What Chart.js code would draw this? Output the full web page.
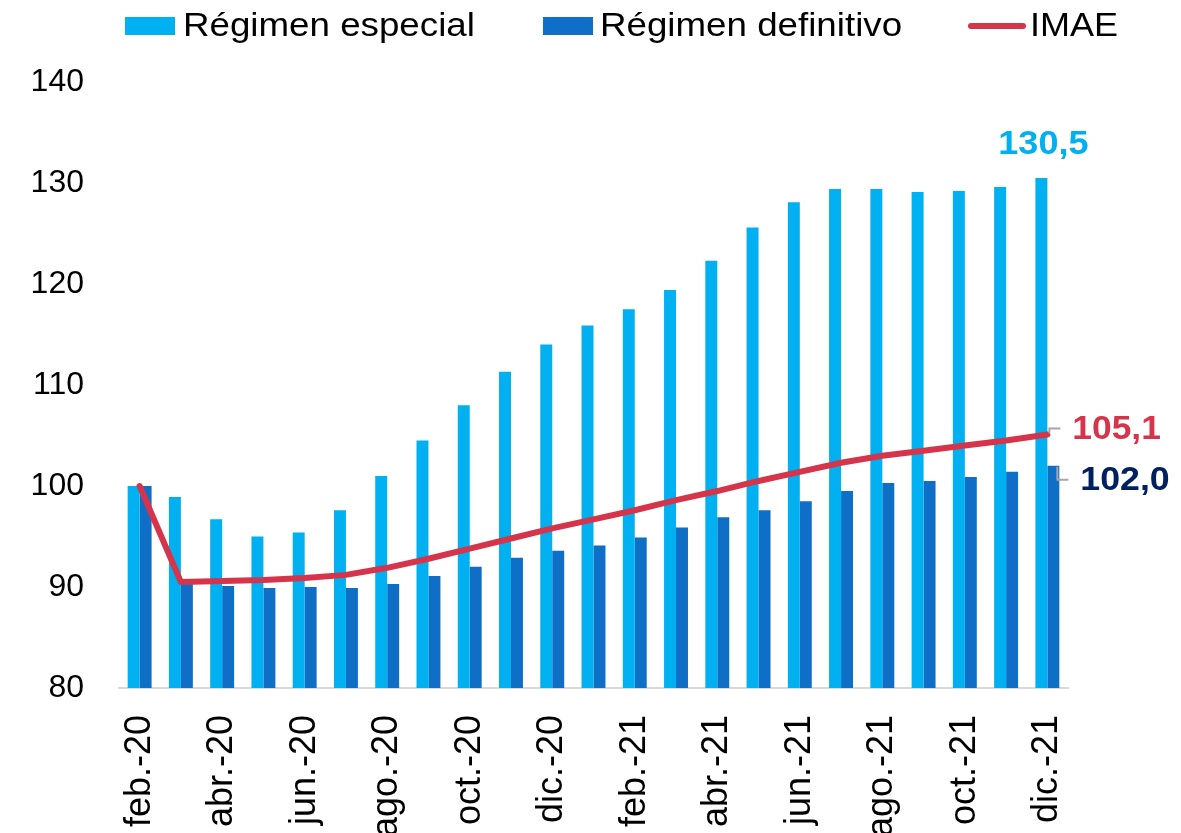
<!DOCTYPE html>
<html lang="es">
<head>
<meta charset="utf-8">
<title>Régimen especial vs definitivo e IMAE</title>
<script src="https://cdn.jsdelivr.net/npm/chart.js@4.4.1/dist/chart.umd.min.js"></script>
<style>
  html, body { margin: 0; padding: 0; background: #fff; }
  #wrap { position: relative; width: 1181px; height: 833px; }
</style>
</head>
<body>
<div id="wrap"><canvas id="chart"></canvas></div>
<script>
const MONTHS = [
  'feb.-20', 'mar.-20', 'abr.-20', 'may.-20', 'jun.-20', 'jul.-20', 'ago.-20', 'sep.-20',
  'oct.-20', 'nov.-20', 'dic.-20', 'ene.-21', 'feb.-21', 'mar.-21', 'abr.-21', 'may.-21',
  'jun.-21', 'jul.-21', 'ago.-21', 'sep.-21', 'oct.-21', 'nov.-21', 'dic.-21',
];

const REGIMEN_ESPECIAL = [
  100.0, 98.9, 96.7, 95.0, 95.4, 97.6, 101.0, 104.5, 108.0, 111.3, 114.0, 115.9,
  117.5, 119.4, 122.3, 125.6, 128.1, 129.4, 129.4, 129.1, 129.2, 129.6, 130.5,
];

const REGIMEN_DEFINITIVO = [
  100.0, 90.7, 90.1, 89.9, 90.0, 89.9, 90.3, 91.1, 92.0, 92.9, 93.6, 94.1,
  94.9, 95.9, 96.9, 97.6, 98.5, 99.5, 100.3, 100.5, 100.9, 101.4, 102.0,
];

const IMAE = [
  100.0, 90.5, 90.6, 90.7, 90.9, 91.2, 91.9, 92.8, 93.8, 94.8, 95.8, 96.7,
  97.6, 98.6, 99.5, 100.5, 101.4, 102.3, 103.0, 103.5, 104.0, 104.5, 105.1,
];

const Y_TICKS = [80, 90, 100, 110, 120, 130, 140];

const COLORS = {
  especial: '#00B0F0',
  definitivo: '#0F6FC6',
  imae: '#D5344A',
  navy: '#002060',
  axis: '#D9D9D9',
  leader: '#A6A6A6',
};

const FONT = "'Liberation Sans', Arial, sans-serif";

const fmt = (v) => v.toFixed(1).replace('.', ',');

// the original text is a bit wider than Arial, stretch it slightly
function wideText(ctx, text, x, y, sx) {
  ctx.save();
  ctx.translate(x, y);
  ctx.scale(sx, 1);
  ctx.fillText(text, 0, 0);
  ctx.restore();
}

// legend drawn by hand so the spacing matches the original
const topLegend = {
  id: 'topLegend',
  afterDraw(chart) {
    const ctx = chart.ctx;
    const ds = chart.data.datasets;
    const y = 26;
    ctx.save();
    ctx.font = `34px ${FONT}`;
    ctx.textBaseline = 'middle';
    ctx.textAlign = 'left';

    ctx.fillStyle = ds[0].backgroundColor;
    ctx.fillRect(125, y - 9, 50, 18);
    ctx.fillStyle = '#000';
    wideText(ctx, ds[0].label, 183, y + 1, 1.08);

    ctx.fillStyle = ds[1].backgroundColor;
    ctx.fillRect(543, y - 9, 50, 18);
    ctx.fillStyle = '#000';
    wideText(ctx, ds[1].label, 600, y + 1, 1.08);

    ctx.strokeStyle = ds[2].borderColor;
    ctx.lineWidth = 6;
    ctx.lineCap = 'round';
    ctx.beginPath();
    ctx.moveTo(971, y);
    ctx.lineTo(1023, y);
    ctx.stroke();
    wideText(ctx, ds[2].label, 1030, y + 1, 1.06);
    ctx.restore();
  },
};

// end-of-series value labels with small leader lines
const endLabels = {
  id: 'endLabels',
  afterDatasetsDraw(chart) {
    const ctx = chart.ctx;
    const last = MONTHS.length - 1;
    const esp = chart.getDatasetMeta(0).data[last];
    const def = chart.getDatasetMeta(1).data[last];
    const ima = chart.getDatasetMeta(2).data[last];

    ctx.save();
    ctx.font = `bold 34px ${FONT}`;
    ctx.textBaseline = 'middle';

    ctx.fillStyle = COLORS.especial;
    ctx.textAlign = 'center';
    wideText(ctx, fmt(REGIMEN_ESPECIAL[last]), esp.x + 2, esp.y - 33, 1.06);

    ctx.strokeStyle = COLORS.leader;
    ctx.lineWidth = 2;
    ctx.beginPath();
    ctx.moveTo(ima.x + 2, ima.y - 1);
    ctx.lineTo(ima.x + 2, ima.y - 6);
    ctx.lineTo(ima.x + 13, ima.y - 6);
    ctx.stroke();

    ctx.beginPath();
    ctx.moveTo(def.x + 4, def.y + 1);
    ctx.lineTo(def.x + 4, def.y + 14);
    ctx.lineTo(def.x + 15, def.y + 14);
    ctx.stroke();

    ctx.textAlign = 'left';
    ctx.fillStyle = COLORS.imae;
    wideText(ctx, fmt(IMAE[last]), ima.x + 25, ima.y - 5, 1.04);
    ctx.fillStyle = COLORS.navy;
    wideText(ctx, fmt(REGIMEN_DEFINITIVO[last]), def.x + 27, def.y + 15, 1.05);
    ctx.restore();
  },
};

const ctx = document.getElementById('chart').getContext('2d');

new Chart(ctx, {
  type: 'bar',
  data: {
    labels: MONTHS,
    datasets: [
      {
        label: 'Régimen especial',
        data: REGIMEN_ESPECIAL,
        backgroundColor: COLORS.especial,
        borderWidth: 0,
        barPercentage: 1,
        categoryPercentage: 0.58,
        order: 1,
      },
      {
        label: 'Régimen definitivo',
        data: REGIMEN_DEFINITIVO,
        backgroundColor: COLORS.definitivo,
        borderWidth: 0,
        barPercentage: 1,
        categoryPercentage: 0.58,
        order: 1,
      },
      {
        type: 'line',
        label: 'IMAE',
        data: IMAE,
        borderColor: COLORS.imae,
        backgroundColor: COLORS.imae,
        borderWidth: 6,
        pointRadius: 0,
        tension: 0,
        borderJoinStyle: 'round',
        borderCapStyle: 'round',
        order: 0,
      },
    ],
  },
  options: {
    responsive: true,
    maintainAspectRatio: false,
    animation: false,
    layout: {
      padding: { top: 82, right: 113, left: 0, bottom: 0 },
    },
    plugins: {
      legend: { display: false },
      tooltip: { enabled: false },
    },
    scales: {
      x: {
        grid: { display: false, drawTicks: false },
        border: { display: true, color: COLORS.axis, width: 2 },
        ticks: {
          autoSkip: false,
          minRotation: 90,
          maxRotation: 90,
          padding: 27,
          color: '#000',
          font: { family: FONT, size: 36 },
          callback: (val, i) => (i % 2 === 0 ? MONTHS[i] : ''),
        },
        afterFit: (scale) => { scale.height = 145; },
      },
      y: {
        min: Y_TICKS[0],
        max: Y_TICKS[Y_TICKS.length - 1],
        grid: { display: false, drawTicks: false },
        border: { display: false },
        afterBuildTicks: (scale) => {
          scale.ticks = Y_TICKS.map((v) => ({ value: v }));
        },
        ticks: {
          padding: 35,
          color: '#000',
          font: { family: FONT, size: 32 },
        },
        afterFit: (scale) => { scale.width = 119; },
      },
    },
  },
  plugins: [topLegend, endLabels],
});
</script>
</body>
</html>
